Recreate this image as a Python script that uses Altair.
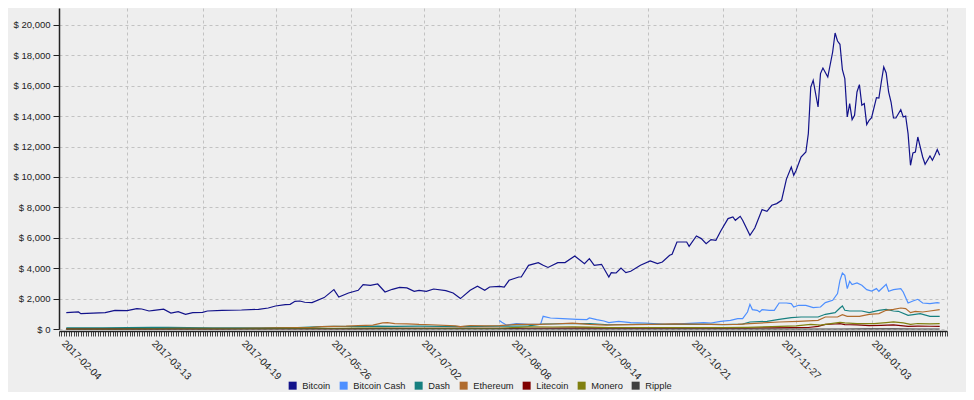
import altair as alt
import pandas as pd

START = "2017-02-04"
COINS = ["Bitcoin", "Bitcoin Cash", "Dash", "Ethereum", "Litecoin", "Monero", "Ripple"]
COLORS = ["#12128a", "#4d8fff", "#178080", "#b06b2d", "#800000", "#808010", "#404040"]

# day offsets from START and USD prices
btc_day = [0, 5, 6, 16, 20, 25, 29, 31, 34, 36, 40, 43, 46, 49, 52, 56, 58, 64, 72, 79, 83, 86, 90, 92, 94, 96, 98,
           101, 106, 110, 112, 116, 120, 122, 125, 128, 131, 134, 137, 140, 143, 145, 148, 151, 156, 159, 162, 166,
           169, 172, 174, 178, 180, 182, 186, 187, 190, 194, 196, 198, 202, 205, 209, 213, 215, 217, 220, 223, 224,
           226, 228, 230, 232, 236, 240, 243, 245, 248, 249, 251, 255, 256, 259, 261, 263, 265, 267, 269, 272, 274,
           275, 277, 278, 281, 283, 286, 288, 290, 292, 294, 296, 298, 299, 300, 302, 304, 305, 306, 307, 309, 310,
           311, 313, 315, 316, 317, 318, 319, 320, 321, 322, 323, 324, 325, 326, 327, 328, 329, 330, 331, 333, 334,
           335, 336, 337, 338, 339, 340, 341, 343, 344, 345, 346, 347, 348, 349, 350, 351, 352, 353, 355, 356, 357,
           358, 359]
btc_usd = [1080, 1120, 1010, 1080, 1230, 1210, 1340, 1315, 1185, 1230, 1300, 1050, 1145, 967, 1080, 1100, 1185,
           1230, 1250, 1295, 1380, 1513, 1605, 1625, 1822, 1842, 1760, 1737, 2066, 2592, 2105, 2368, 2546, 2920, 2875,
           2960, 2434, 2612, 2743, 2700, 2480, 2546, 2480, 2632, 2526, 2368, 2000, 2546, 2809, 2546, 2763, 2809, 2763,
           3204, 3421, 3421, 4190, 4368, 4190, 4050, 4368, 4368, 4803, 4300, 4631, 4190, 4257, 3421, 3710, 3684, 4013,
           3710, 3796, 4190, 4474, 4300, 4408, 4849, 4914, 5724, 5724, 5441, 6118, 5947, 5618, 5882, 5836, 6447, 7263,
           7368, 7151, 7414, 7151, 6164, 6645, 7855, 7743, 8138, 8250, 8467, 9860, 10658, 10112, 10441, 11316, 11645,
           12855, 15921, 16362, 14605, 16803, 17171, 16579, 18224, 19474, 18947, 18730, 17066, 16474, 13947, 14829,
           13776, 14059, 15592, 16079, 14717, 14829, 13447, 13730, 13908, 15224, 15197, 16250, 17237, 16842, 15592,
           14934, 13882, 13882, 14434, 13947, 14013, 12855, 10770, 11579, 11645, 12632, 11974, 11316, 10836, 11382,
           11099, 11428, 11803, 11428]

bch_day = [178, 179, 181, 185, 190, 195, 196, 199, 204, 210, 214, 215, 218, 221, 223, 227, 232, 238, 246, 254, 262,
           265, 269, 273, 276, 278, 280, 281, 282, 284, 285, 286, 289, 291, 293, 296, 298, 299, 301, 304, 307, 310,
           312, 315, 317, 318, 319, 320, 321, 322, 323, 325, 327, 329, 331, 333, 334, 337, 338, 340, 343, 344, 346,
           348, 350, 352, 355, 358, 359]
bch_usd = [560, 440, 250, 355, 300, 330, 835, 724, 684, 638, 618, 724, 618, 526, 421, 506, 421, 395, 309, 355, 421,
           395, 506, 572, 684, 684, 1118, 1625, 1276, 1230, 1118, 1276, 1230, 1230, 1711, 1711, 1671, 1447, 1559, 1559,
           1408, 1447, 1737, 1888, 2329, 3204, 3684, 3533, 2658, 3138, 2921, 3026, 2875, 2592, 2500, 2658, 2480, 2941,
           2480, 2592, 2658, 2434, 1711, 1842, 1954, 1711, 1671, 1737, 1711]

dash_day = [0, 15, 25, 35, 42, 50, 60, 70, 80, 88, 95, 105, 110, 120, 128, 135, 145, 155, 162, 170, 178, 190, 196,
            205, 215, 223, 235, 245, 255, 265, 270, 278, 281, 288, 293, 298, 302, 309, 312, 316, 318, 319, 320, 322,
            327, 330, 334, 337, 340, 342, 346, 351, 355, 359]
dash_usd = [75, 70, 90, 105, 110, 95, 75, 72, 78, 95, 100, 160, 180, 155, 185, 170, 190, 175, 155, 170, 185, 210,
            330, 345, 350, 280, 305, 305, 310, 305, 290, 320, 460, 506, 638, 750, 790, 790, 967, 1079, 1382, 1513,
            1230, 1184, 1184, 1079, 1230, 1296, 1184, 1164, 901, 1013, 835, 835]

eth_day = [0, 10, 20, 25, 32, 38, 45, 50, 55, 62, 70, 80, 86, 95, 100, 105, 110, 115, 120, 126, 130, 132, 135, 140,
           145, 150, 160, 162, 166, 172, 178, 185, 194, 200, 208, 215, 222, 225, 232, 240, 250, 257, 265, 270, 276,
           281, 293, 301, 309, 312, 317, 319, 321, 326, 330, 334, 337, 340, 343, 345, 347, 349, 352, 355, 359]
eth_usd = [11, 11, 13, 16, 19, 28, 42, 50, 49, 44, 48, 65, 80, 88, 90, 150, 175, 190, 225, 260, 400, 420, 360, 340,
           300, 280, 200, 160, 230, 200, 225, 300, 300, 330, 385, 300, 250, 265, 290, 300, 335, 315, 300, 295, 300,
           355, 460, 506, 572, 790, 790, 947, 835, 835, 967, 1013, 1230, 1296, 1382, 1342, 1079, 1164, 1118, 1184,
           1276]

ltc_day = [0, 30, 40, 55, 62, 75, 82, 92, 100, 110, 120, 130, 145, 160, 170, 178, 190, 205, 215, 223, 230, 240, 250,
           260, 270, 280, 290, 298, 305, 309, 312, 316, 318, 320, 322, 325, 330, 335, 340, 346, 350, 355, 359]
ltc_usd = [4, 4, 4, 8, 10, 15, 15, 27, 30, 27, 30, 45, 42, 43, 46, 43, 48, 60, 70, 48, 52, 56, 55, 57, 58, 62, 72,
           87, 100, 175, 300, 330, 350, 290, 280, 265, 225, 245, 270, 170, 195, 180, 170]

xmr_day = [0, 20, 35, 45, 60, 80, 90, 100, 110, 125, 140, 160, 178, 190, 200, 208, 215, 223, 235, 250, 262, 270,
           280, 290, 300, 306, 310, 315, 318, 320, 325, 332, 337, 340, 344, 347, 350, 355, 359]
xmr_usd = [12, 14, 19, 22, 21, 25, 35, 45, 35, 55, 50, 40, 45, 135, 130, 140, 120, 95, 100, 90, 90, 88, 110, 150,
           200, 300, 260, 370, 430, 400, 350, 350, 420, 470, 400, 300, 360, 340, 350]

xrp_day = [0, 60, 90, 105, 130, 160, 200, 240, 280, 300, 310, 318, 330, 336, 340, 350, 359]
xrp_usd = [0.006, 0.01, 0.2, 0.3, 0.28, 0.16, 0.25, 0.2, 0.21, 0.25, 0.45, 0.9, 2.3, 3.2, 2.0, 1.6, 1.3]

LABEL_DATES = ["2017-02-04", "2017-03-13", "2017-04-19", "2017-05-26", "2017-07-02",
               "2017-08-08", "2017-09-14", "2017-10-21", "2017-11-27", "2018-01-03"]

series = [
    ("Bitcoin", btc_day, btc_usd), ("Bitcoin Cash", bch_day, bch_usd), ("Dash", dash_day, dash_usd),
    ("Ethereum", eth_day, eth_usd), ("Litecoin", ltc_day, ltc_usd), ("Monero", xmr_day, xmr_usd),
    ("Ripple", xrp_day, xrp_usd),
]
frames = []
for name, days, vals in series:
    frames.append(pd.DataFrame({
        "coin": name,
        "date": (pd.Timestamp(START) + pd.to_timedelta(days, unit="D")).strftime("%Y-%m-%d"),
        "price": vals,
    }))
df = pd.concat(frames, ignore_index=True)
df["order"] = df["coin"].map({c: i for i, c in enumerate(COINS)})

labels_df = pd.DataFrame({"date": LABEL_DATES})
legend_df = pd.DataFrame({"coin": COINS})

FONT = "Liberation Sans"
x_dom = [alt.DateTime(year=2017, month=2, date=1), alt.DateTime(year=2018, month=2, date=1)]
x_scale = alt.Scale(domain=x_dom)
color_scale = alt.Scale(domain=COINS, range=COLORS)

lines = alt.Chart(df).mark_line(strokeWidth=1.2).encode(
    x=alt.X("date:T", scale=x_scale, title=None,
            axis=alt.Axis(orient="bottom", tickCount={"interval": "month", "step": 1}, labels=False, ticks=False,
                          domain=False, grid=True, gridColor="#c2c2c2", gridDash=[3, 3], gridWidth=1)),
    y=alt.Y("price:Q", scale=alt.Scale(domain=[0, 21118], nice=False), title=None,
            axis=alt.Axis(values=list(range(0, 20001, 2000)), labelExpr="'$ ' + format(datum.value, ',')",
                          grid=True, gridColor="#c2c2c2", gridDash=[3, 3], gridWidth=1,
                          domainColor="#222222", domainWidth=1.5, tickColor="#222222", tickSize=6,
                          labelFont=FONT, labelFontSize=9.5, labelColor="#222222", labelPadding=3)),
    color=alt.Color("coin:N", scale=color_scale, legend=None),
    order="order:Q",
    detail="coin:N",
)

ticks_layer = alt.Chart(labels_df).mark_rule(opacity=0).encode(
    x=alt.X("date:T", scale=x_scale, title=None,
            axis=alt.Axis(orient="bottom", tickCount={"interval": "day", "step": 1}, labels=False, grid=False,
                          domain=True, domainColor="#222222", domainWidth=1.5,
                          ticks=True, tickColor="#444444", tickSize=5, tickWidth=1, offset=2)),
)

labels_layer = alt.Chart(labels_df).mark_rule(opacity=0).encode(
    x=alt.X("date:T", scale=x_scale, title=None,
            axis=alt.Axis(orient="bottom",
                          values=[alt.DateTime(year=int(d[:4]), month=int(d[5:7]), date=int(d[8:])) for d in LABEL_DATES],
                          format="%Y-%m-%d", labelAngle=45, labelAlign="left", labelBaseline="top",
                          labelFont=FONT, labelFontSize=10, labelColor="#222222", labelPadding=7,
                          ticks=False, domain=False, grid=False, offset=2, labelOverlap=False)),
)

legend_layer = alt.Chart(legend_df).mark_square(opacity=0, size=1).encode(
    color=alt.Color("coin:N", scale=color_scale, sort=COINS,
                    legend=alt.Legend(title=None, orient="none", direction="horizontal", legendX=229,
                                      legendY=373, symbolType="square", symbolSize=64, symbolOpacity=1,
                                      symbolStrokeWidth=0, labelFont=FONT, labelFontSize=9.3,
                                      labelColor="#222222", labelOffset=5, columnPadding=8, padding=0)),
)

chart = alt.layer(lines, ticks_layer, labels_layer, legend_layer).resolve_axis(
    x="independent").resolve_legend(color="independent").properties(
    width=888, height=321, background="#eeeeee",
    padding={"left": 51, "top": 0, "right": 19, "bottom": 63},
    autosize=alt.AutoSizeParams(type="none"),
).configure_view(stroke=None)

chart.save("out.html", embed_options={"renderer": "svg", "actions": False})
